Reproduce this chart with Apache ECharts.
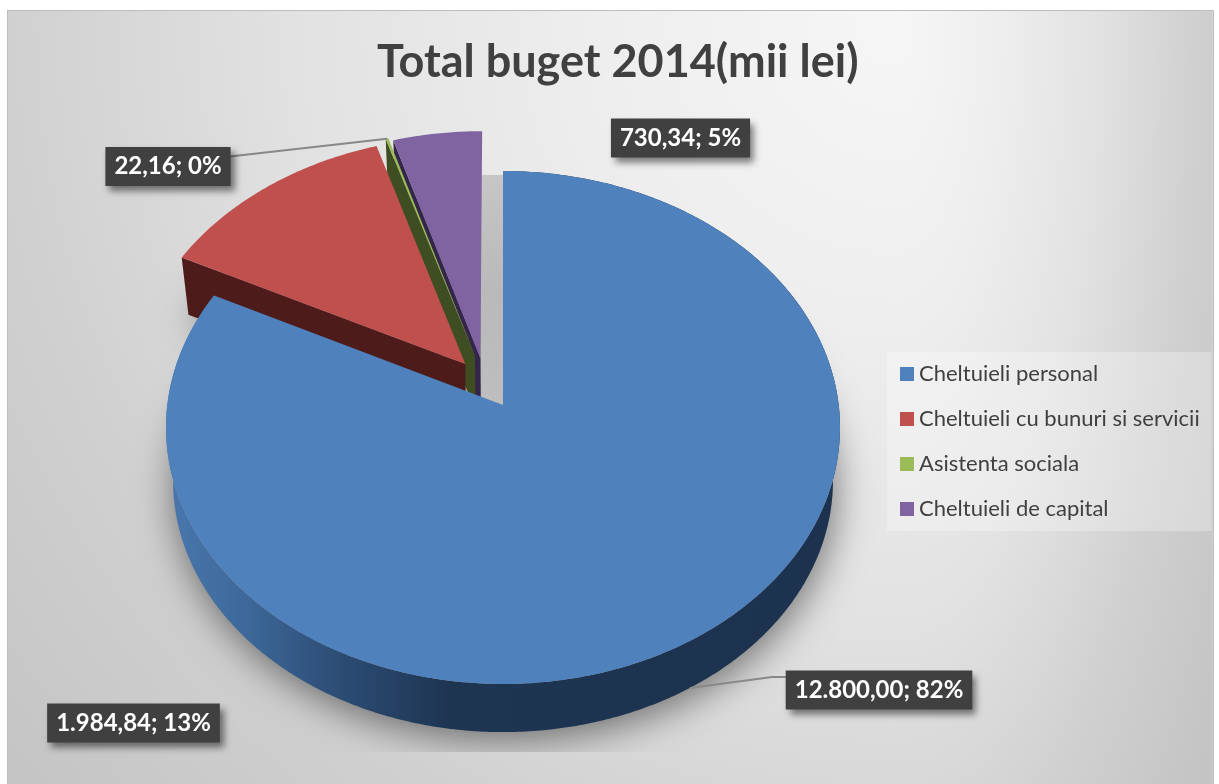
<!DOCTYPE html>
<html>
<head>
<meta charset="utf-8">
<title>Total buget 2014</title>
<script src="https://cdn.jsdelivr.net/npm/echarts@6/dist/echarts.min.js"></script>
<style>
  html, body { margin: 0; padding: 0; background: #fff; }
  #chart { width: 1219px; height: 784px; }
</style>
</head>
<body>
<div id="chart"></div>
<script>
var categories = ["Cheltuieli personal", "Cheltuieli cu bunuri si servicii", "Asistenta sociala", "Cheltuieli de capital"];
var values = [12800.00, 1984.84, 22.16, 730.34];

var topColors = ["#4f81bd", "#c0504d", "#9bbb59", "#8064a2"];
var wallColors = ["#1c324e", "#4d1c1a", "#3f4d22", "#33264a"];
// how far each slice is pulled out, in units of the pie radius
var explodeU = [0, -0.114, -0.085, -0.0685];
var explodeV = [0, -0.163, -0.197, -0.188];
var labelCenters = [[879, 690], [133.5, 723], [168, 166.5], [680.5, 138]];

var FONT = "Lato, 'Open Sans', sans-serif";
// tilted pie: perspective projection of the unit circle
var CX = 503, CY = 405, A = 335.7, B = 254.5, K = -0.0877;
var DEPTH = 54, BOTTOM_SCALE = 0.979;

var total = values.reduce(function (a, b) { return a + b; }, 0);
var startAngles = [];
values.reduce(function (acc, v, i) {
  startAngles[i] = acc;
  return acc + v / total * Math.PI * 2;
}, 0);

function project(theta, r, idx, bottom) {
  var u = r * Math.sin(theta) + explodeU[idx];
  var v = -r * Math.cos(theta) + explodeV[idx];
  var den = 1 + K * v;
  var s = bottom ? BOTTOM_SCALE : 1;
  return [CX + s * A * u / den, CY + s * B * v / den + (bottom ? DEPTH : 0)];
}

function arc(a0, a1, idx, bottom) {
  var pts = [];
  var n = Math.max(2, Math.ceil(Math.abs(a1 - a0) / 0.01));
  for (var i = 0; i <= n; i++) {
    pts.push(project(a0 + (a1 - a0) * i / n, 1, idx, bottom));
  }
  return pts;
}

function formatValue(v) {
  var parts = v.toFixed(2).split(".");
  return parts[0].replace(/\B(?=(\d{3})+$)/g, ".") + "," + parts[1];
}

function sliceRange(idx, value) {
  var a0 = startAngles[idx];
  return [a0, a0 + value / total * Math.PI * 2];
}

function renderSlice(idx, params, api) {
  var value = api.value(0);
  var range = sliceRange(idx, value);
  var a0 = range[0], a1 = range[1], mid = (a0 + a1) / 2;
  var children = [];

  if (idx === 0) {
    // outer wall of the big slice, only its front shows
    var wallPts = arc(a0, a1, idx, false).concat(arc(a0, a1, idx, true).reverse());
    children.push({
      type: "polygon",
      shape: { points: wallPts },
      style: {
        fill: {
          type: "linear", x: 0, y: 0, x2: 1, y2: 0,
          colorStops: [
            { offset: 0, color: "#4a78ae" },
            { offset: 0.12, color: "#3d6899" },
            { offset: 0.26, color: "#2c4c74" },
            { offset: 0.42, color: "#1e3552" },
            { offset: 1, color: wallColors[0] }
          ]
        }
      }
    });
  } else {
    // radial side face at the start of the pulled out slice
    var apexTop = project(0, 0, idx, false), apexBottom = project(0, 0, idx, true);
    children.push({
      type: "polygon",
      shape: { points: [apexTop, project(a0, 1, idx, false), project(a0, 1, idx, true), apexBottom] },
      style: { fill: wallColors[idx] }
    });
  }

  children.push({
    type: "polygon",
    shape: { points: [project(0, 0, idx, false)].concat(arc(a0, a1, idx, false)) },
    style: { fill: topColors[idx] }
  });

  // leader lines, the other two labels sit without one
  var c = labelCenters[idx];
  if (idx === 0) {
    var p = project(mid, 1, idx, true);
    children.push({
      type: "polyline",
      shape: { points: [p, [c[0] - 107, c[1] - 13], [c[0] - 93, c[1] - 13]] },
      style: { fill: "none", stroke: "#888", lineWidth: 2 }
    });
  }
  if (idx === 2) {
    var q = project(mid, 1, idx, false);
    children.push({
      type: "line",
      shape: { x1: c[0] + 62, y1: c[1] - 10, x2: q[0], y2: q[1] },
      style: { stroke: "#888", lineWidth: 2 }
    });
  }

  children.push({
    type: "text",
    z2: 10,
    style: {
      x: c[0], y: c[1],
      text: formatValue(value) + "; " + Math.round(value / total * 100) + "%",
      align: "center", verticalAlign: "middle",
      font: "bold 24px " + FONT,
      fill: "#fff",
      backgroundColor: "#404040",
      padding: [8, 9, 7, 9],
      shadowColor: "rgba(0,0,0,0.5)",
      shadowBlur: 7,
      shadowOffsetX: 4,
      shadowOffsetY: 5
    }
  });
  return { type: "group", children: children };
}

// soft shadow under the pie, cut off the same way as in the picture
function renderShadow(params, api) {
  var children = [];
  values.forEach(function (v, idx) {
    var range = sliceRange(idx, v);
    children.push({
      type: "polygon",
      shape: { points: [project(0, 0, idx, true)].concat(arc(range[0], range[1], idx, true)) },
      style: {
        fill: "#999",
        shadowColor: "rgba(0,0,0,0.5)",
        shadowBlur: 38,
        shadowOffsetX: 2,
        shadowOffsetY: 8
      }
    });
  });
  return {
    type: "group",
    clipPath: { type: "rect", shape: { x: 8, y: 175, width: 1204, height: 577 } },
    children: children
  };
}

var series = [{
  type: "custom",
  name: "umbra",
  coordinateSystem: "none",
  silent: true,
  z: 1,
  data: [[total]],
  renderItem: renderShadow
}];
categories.forEach(function (name, idx) {
  series.push({
    type: "custom",
    name: name,
    coordinateSystem: "none",
    z: 6 - idx,
    color: topColors[idx],
    data: [[values[idx]]],
    renderItem: function (params, api) { return renderSlice(idx, params, api); }
  });
});

// background brightens towards the top right, falls off faster on the right side
var bgStops = [
  { offset: 0, color: "#f6f6f6" },
  { offset: 0.255, color: "#eeeeee" },
  { offset: 0.51, color: "#e2e2e2" },
  { offset: 0.65, color: "#d8d8d8" },
  { offset: 0.76, color: "#d0d0d0" },
  { offset: 1, color: "#c4c4c4" }
];

var chart = echarts.init(document.getElementById("chart"), null, { renderer: "canvas" });
chart.setOption({
  animation: false,
  backgroundColor: "#fff",
  graphic: [{
    type: "rect",
    z: -3,
    shape: { x: 7, y: 10, width: 893, height: 774 },
    style: { fill: { type: "radial", x: 900, y: 20, r: 1175, global: true, colorStops: bgStops } }
  }, {
    type: "rect",
    z: -3,
    originX: 900,
    scaleX: 0.33,
    shape: { x: 900, y: 10, width: 948, height: 774 },
    style: { fill: { type: "radial", x: 900, y: 20, r: 1175, global: true, colorStops: bgStops } }
  }, {
    type: "rect",
    z: -2,
    shape: { x: 7.5, y: 10.5, width: 1206, height: 780 },
    style: { stroke: "#bdbdbd", lineWidth: 1, fill: "none" }
  }, {
    // the cut off shadow showing in the gap right of the capital slice
    type: "rect",
    z: 2,
    shape: { x: 481, y: 175, width: 23, height: 232 },
    style: {
      fill: {
        type: "linear", x: 0, y: 0, x2: 0, y2: 1,
        colorStops: [
          { offset: 0, color: "#c6c6c6" },
          { offset: 0.5, color: "#b9b9b9" },
          { offset: 1, color: "#bebebe" }
        ]
      }
    }
  }],
  title: {
    text: "Total buget 2014(mii lei)",
    left: 372,
    top: 35,
    textStyle: { fontFamily: FONT, fontWeight: "bold", fontSize: 45, color: "#404040" }
  },
  legend: {
    orient: "vertical",
    left: 887,
    top: 352,
    padding: [11, 12, 11, 13],
    backgroundColor: "rgba(255,255,255,0.28)",
    data: categories,
    icon: "rect",
    itemWidth: 14,
    itemHeight: 14,
    itemGap: 23,
    itemStyle: { borderWidth: 0 },
    textStyle: { fontFamily: FONT, fontSize: 22, color: "#404040" }
  },
  series: series
});
</script>
</body>
</html>
